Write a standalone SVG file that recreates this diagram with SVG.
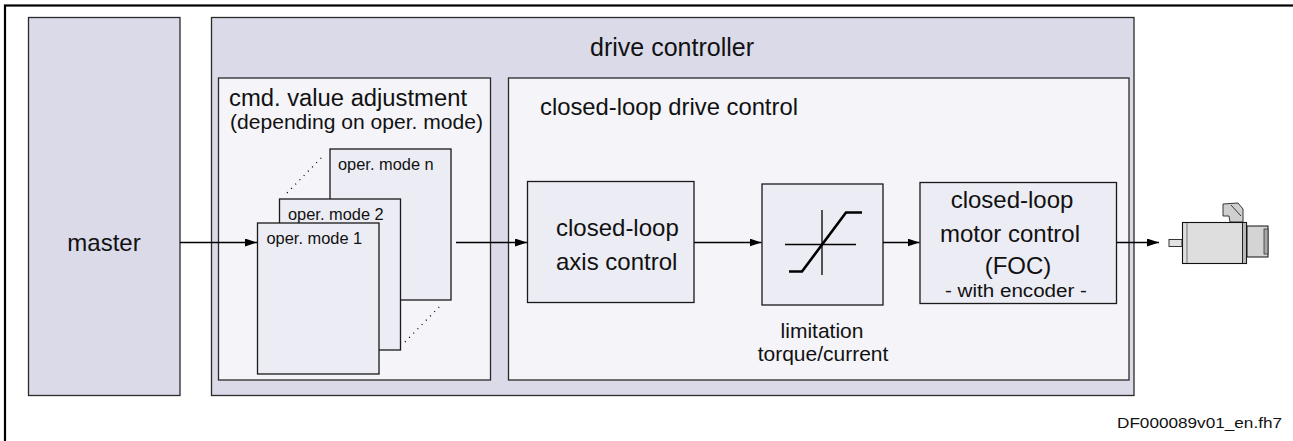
<svg xmlns="http://www.w3.org/2000/svg" width="1293" height="441" viewBox="0 0 1293 441">
  <style>
    .frame { fill: #ffffff; stroke: #000; stroke-width: 2.2; }
    .outer { fill: #dadae9; stroke: #2a2a2a; stroke-width: 1.3; }
    .inner { fill: #f4f4f9; stroke: #2a2a2a; stroke-width: 1.3; }
    .block { fill: #ececf4; stroke: #1a1a1a; stroke-width: 1.3; }
    .txt { font-family: "Liberation Sans", Arial, sans-serif; fill: #111; }
    .wire { stroke: #000; stroke-width: 1.3; fill: none; }
    .dots { stroke: #000; stroke-width: 1.3; stroke-dasharray: 1 5; fill: none; }
  </style>
  <defs>
    <marker id="arrow" viewBox="0 0 12 8" refX="12" refY="4" markerWidth="12" markerHeight="8" markerUnits="userSpaceOnUse" orient="auto">
      <path d="M0,0 L12,4 L0,8 Z" fill="#000"/>
    </marker>
  </defs>

  <rect width="1293" height="441" fill="#fff"/>
  <!-- drawing frame -->
  <rect class="frame" x="5" y="5.5" width="1300" height="450"/>

  <g id="master">
    <rect class="outer" x="28.5" y="17.5" width="151.5" height="378"/>
    <text class="txt" x="104" y="251" font-size="24" text-anchor="middle">master</text>
  </g>

  <g id="drive-controller">
    <rect class="outer" x="211.5" y="17.5" width="922.5" height="378"/>
    <text class="txt" x="672" y="56" font-size="25" text-anchor="middle">drive controller</text>
  </g>

  <g id="cmd-value-adjustment">
    <rect class="inner" x="218.5" y="78" width="272" height="302"/>
    <text class="txt" x="229" y="106" font-size="23" textLength="238" lengthAdjust="spacingAndGlyphs">cmd. value adjustment</text>
    <text class="txt" x="230" y="128.5" font-size="19.5" textLength="253" lengthAdjust="spacingAndGlyphs">(depending on oper. mode)</text>
  </g>

  <g id="closed-loop-drive-control">
    <rect class="inner" x="508.5" y="78" width="620.5" height="302"/>
    <text class="txt" x="540" y="115" font-size="23.8">closed-loop drive control</text>
  </g>

  <g id="oper-mode-n">
    <rect class="block" x="330" y="149" width="121" height="151"/>
    <text class="txt" x="338" y="170" font-size="16.4">oper. mode n</text>
  </g>
  <g id="oper-mode-2">
    <rect class="block" x="279.5" y="199" width="121" height="151"/>
    <text class="txt" x="288" y="220" font-size="16.4">oper. mode 2</text>
  </g>
  <g id="oper-mode-1">
    <rect class="block" x="257.5" y="223" width="121.5" height="151"/>
    <text class="txt" x="266.5" y="244" font-size="16.4">oper. mode 1</text>
  </g>

  <g id="axis-control">
    <rect class="block" x="527.5" y="181.5" width="166.5" height="121"/>
    <text class="txt" x="556" y="236" font-size="24">closed-loop</text>
    <text class="txt" x="556" y="270" font-size="24">axis control</text>
  </g>

  <g id="limitation">
    <rect class="block" x="762" y="184" width="121" height="121"/>
    <path class="wire" d="M785,244.5 H856 M822,210 V275"/>
    <path d="M789,271.5 H802 L846,212.5 H862" fill="none" stroke="#000" stroke-width="2.6"/>
    <text class="txt" x="822" y="338" font-size="21" text-anchor="middle">limitation</text>
    <text class="txt" x="823" y="361" font-size="21" text-anchor="middle">torque/current</text>
  </g>

  <g id="motor-control">
    <rect class="block" x="920" y="182.5" width="196.5" height="121"/>
    <text class="txt" x="1012" y="208" font-size="24" text-anchor="middle">closed-loop</text>
    <text class="txt" x="1010" y="242" font-size="24" text-anchor="middle">motor control</text>
    <text class="txt" x="1018" y="274" font-size="24" text-anchor="middle">(FOC)</text>
    <text class="txt" x="945" y="297" font-size="18" textLength="142" lengthAdjust="spacingAndGlyphs">- with encoder -</text>
  </g>

  <g id="motor">
    <!-- shaft -->
    <rect x="1169" y="239.5" width="13" height="7" fill="#e2e2e2" stroke="#222" stroke-width="0.9"/>
    <!-- terminal box -->
    <path d="M1223,204 L1238,203 L1243,209 L1243,222 L1230,222 L1229,216 L1223,216 Z" fill="#cfcfcf" stroke="#222" stroke-width="0.9"/>
    <path d="M1231,205 L1241,216" stroke="#222" stroke-width="0.9"/>
    <!-- housing -->
    <rect x="1182.5" y="222.5" width="64" height="41" fill="#dedede" stroke="#111" stroke-width="1.1"/>
    <line x1="1187" y1="223" x2="1187" y2="263" stroke="#555" stroke-width="0.8"/>
    <rect x="1242.5" y="222.5" width="4" height="41" fill="#b8b8b8" stroke="#111" stroke-width="0.9"/>
    <!-- brake / encoder section -->
    <rect x="1247" y="226" width="21" height="31" fill="#d4d4d4" stroke="#111" stroke-width="1"/>
    <rect x="1264" y="229" width="4" height="25" fill="#a8a8a8" stroke="#222" stroke-width="0.7"/>
  </g>

  <g id="connectors">
    <line class="wire" x1="180" y1="242.5" x2="257" y2="242.5" marker-end="url(#arrow)"/>
    <line class="wire" x1="456" y1="242.5" x2="527" y2="242.5" marker-end="url(#arrow)"/>
    <line class="wire" x1="694" y1="242.5" x2="761.5" y2="242.5" marker-end="url(#arrow)"/>
    <line class="wire" x1="883" y1="242.5" x2="919.5" y2="242.5" marker-end="url(#arrow)"/>
    <line class="wire" x1="1117" y1="242.5" x2="1159" y2="242.5" marker-end="url(#arrow)"/>
    <line class="dots" x1="287" y1="193" x2="324" y2="155"/>
    <line class="dots" x1="405" y1="342" x2="441" y2="305"/>
  </g>

  <text class="txt" x="1117" y="428" font-size="15.5" textLength="165" lengthAdjust="spacingAndGlyphs">DF000089v01_en.fh7</text>
</svg>
